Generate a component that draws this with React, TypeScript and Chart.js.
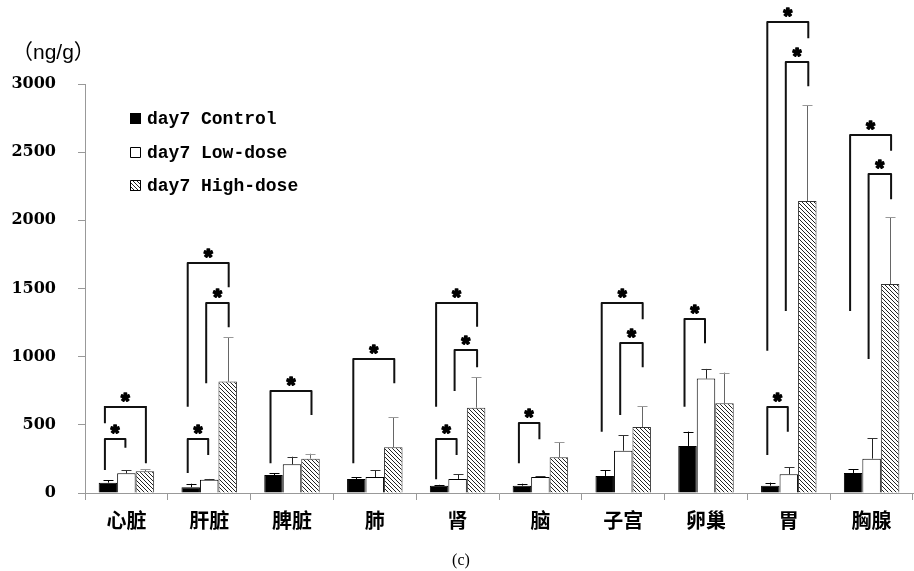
import React, { useEffect, useRef } from "react";
import { Chart, registerables } from "chart.js";

Chart.register(...registerables);

const categories = ["心脏", "肝脏", "脾脏", "肺", "肾", "脑", "子宫", "卵巢", "胃", "胸腺"];
const seriesNames = ["day7 Control", "day7 Low-dose", "day7 High-dose"];
const controlMean = [76, 42, 132, 103, 54, 54, 125, 345, 54, 147];
const controlSD = [17, 26, 12, 12, 6, 14, 41, 105, 22, 27];
const lowMean = [144, 98, 210, 117, 103, 117, 310, 839, 137, 252];
const lowSD = [22, 5, 56, 49, 34, 5, 113, 71, 52, 149];
const highMean = [159, 817, 252, 335, 626, 262, 484, 658, 2142, 1533];
const highSD = [15, 327, 36, 220, 223, 110, 152, 225, 704, 489];
const yTicks = [0, 500, 1000, 1500, 2000, 2500, 3000];
// [category, fromSeries, toSeries, topValue, leftLegBottomValue, rightLegBottomValue]
const brackets: number[][] = [
  [0, 0, 2, 633, 511, 218],
  [0, 0, 1, 398, 169, 332],
  [1, 0, 2, 1689, 633, 1509],
  [1, 1, 2, 1396, 805, 1215],
  [1, 0, 1, 398, 147, 279],
  [2, 0, 2, 750, 218, 572],
  [3, 0, 2, 985, 218, 805],
  [4, 0, 2, 1396, 633, 1220],
  [4, 1, 2, 1047, 748, 922],
  [4, 0, 1, 398, 100, 279],
  [5, 0, 1, 516, 218, 394],
  [6, 0, 2, 1396, 450, 1274],
  [6, 1, 2, 1102, 572, 922],
  [7, 0, 1, 1279, 633, 1098],
  [8, 0, 2, 3455, 1044, 3335],
  [8, 1, 2, 3164, 1335, 2983],
  [8, 0, 1, 633, 279, 450],
  [9, 0, 2, 2628, 1335, 2511],
  [9, 1, 2, 2338, 983, 2154],
];
const unitLabel = "（ng/g）";
const captionLabel = "(c)";

function makeHatch(): CanvasPattern | string {
  const c = document.createElement("canvas");
  c.width = 4;
  c.height = 4;
  const g = c.getContext("2d");
  if (!g) return "#888";
  g.fillStyle = "#fff";
  g.fillRect(0, 0, 4, 4);
  g.strokeStyle = "#222";
  g.lineWidth = 1;
  g.beginPath();
  g.moveTo(-1, -1);
  g.lineTo(5, 5);
  g.moveTo(-1, 3);
  g.lineTo(1, 5);
  g.moveTo(3, -1);
  g.lineTo(5, 1);
  g.stroke();
  return g.createPattern(c, "repeat") || "#888";
}

export default function App() {
  const ref = useRef<HTMLCanvasElement | null>(null);

  useEffect(() => {
    if (!ref.current) return;
    const hatch = makeHatch();
    const sds = [controlSD, lowSD, highSD];
    const fills: any[] = ["#000", "#fff", hatch];

    const overlay = {
      id: "overlay",
      afterDatasetsDraw(chart: any) {
        const ctx = chart.ctx as CanvasRenderingContext2D;
        const y = chart.scales.y;
        ctx.save();
        // error bars
        const stemColors = ["#000", "#222", "#666"];
        const capColors = ["#000", "#333", "#999"];
        for (let d = 0; d < 3; d++) {
          const meta = chart.getDatasetMeta(d);
          meta.data.forEach((el: any, i: number) => {
            const mean = chart.data.datasets[d].data[i] as number;
            const top = y.getPixelForValue(mean + sds[d][i]);
            const base = y.getPixelForValue(mean);
            const x = Math.round(el.x) + 0.5;
            ctx.lineWidth = 1;
            ctx.strokeStyle = stemColors[d];
            ctx.beginPath();
            ctx.moveTo(x, base);
            ctx.lineTo(x, top);
            ctx.stroke();
            ctx.strokeStyle = capColors[d];
            ctx.beginPath();
            ctx.moveTo(x - 5, Math.round(top) + 0.5);
            ctx.lineTo(x + 5, Math.round(top) + 0.5);
            ctx.stroke();
          });
        }
        // significance brackets
        ctx.strokeStyle = "#111";
        ctx.lineWidth = 2;
        ctx.fillStyle = "#000";
        ctx.font = "bold 22px 'Liberation Sans'";
        ctx.textAlign = "center";
        brackets.forEach((b) => {
          const [cat, from, to, topV, lb, rb] = b;
          const xa = chart.getDatasetMeta(from).data[cat].x - 3;
          const xb = chart.getDatasetMeta(to).data[cat].x + (to === 2 ? 1 : -1);
          const yt = Math.round(y.getPixelForValue(topV));
          ctx.strokeStyle = "#111";
          ctx.lineWidth = 2;
          ctx.beginPath();
          ctx.moveTo(xa, y.getPixelForValue(lb));
          ctx.lineTo(xa, yt);
          ctx.lineTo(xb, yt);
          ctx.lineTo(xb, y.getPixelForValue(rb));
          ctx.stroke();
          const m = ctx.measureText("*");
          const cy = yt - 10;
          const baseline = cy + (m.actualBoundingBoxAscent - m.actualBoundingBoxDescent) / 2;
          const sx = (xa + xb) / 2;
          ctx.fillText("*", sx, baseline);
          ctx.lineWidth = 1.6;
          ctx.strokeStyle = "#000";
          ctx.lineJoin = "round";
          ctx.strokeText("*", sx, baseline);
        });
        // legend
        const legendBaselines = [124, 158, 191];
        ctx.textAlign = "left";
        ctx.font = "bold 18px 'Liberation Mono'";
        seriesNames.forEach((name, k) => {
          const bl = legendBaselines[k];
          ctx.fillStyle = fills[k];
          ctx.fillRect(130, bl - 11, 11, 11);
          ctx.lineWidth = 1;
          ctx.strokeStyle = "#000";
          ctx.strokeRect(130.5, bl - 10.5, 10, 10);
          ctx.fillStyle = "#000";
          ctx.fillText(name, 147, bl);
        });
        // unit + caption
        ctx.font = "21px 'Liberation Sans', 'Noto Sans CJK SC'";
        ctx.fillText(unitLabel, 12, 59);
        ctx.textAlign = "center";
        ctx.font = "16px 'Liberation Serif'";
        ctx.fillText(captionLabel, 461, 565);
        ctx.restore();
      },
    };

    const chart = new Chart(ref.current, {
      type: "bar",
      data: {
        labels: categories,
        datasets: [
          { label: seriesNames[0], data: controlMean, backgroundColor: "#000", borderColor: "#000", borderWidth: 1 },
          { label: seriesNames[1], data: lowMean, backgroundColor: "#fff", borderColor: "#000", borderWidth: 1 },
          { label: seriesNames[2], data: highMean, backgroundColor: hatch as any, borderColor: "#333", borderWidth: 1 },
        ],
      },
      options: {
        responsive: false,
        animation: false,
        events: [],
        layout: { padding: { top: 84, right: 1, left: 0, bottom: 0 } },
        datasets: { bar: { categoryPercentage: 0.67, barPercentage: 1 } },
        plugins: { legend: { display: false }, tooltip: { enabled: false }, title: { display: false } },
        scales: {
          x: {
            afterFit: (s: any) => {
              s.height = 78;
            },
            grid: { display: true, drawOnChartArea: false, drawTicks: true, tickLength: 7, offset: true, color: "#999" },
            border: { display: true, color: "#999", width: 1 },
            ticks: { padding: 8, color: "#000", font: { family: "'Noto Sans CJK SC'", size: 20, weight: "bold" } },
          },
          y: {
            min: 0,
            max: 3000,
            afterFit: (s: any) => {
              s.width = 85;
            },
            afterBuildTicks: (s: any) => {
              s.ticks = yTicks.map((v) => ({ value: v }));
            },
            grid: { display: true, drawOnChartArea: false, drawTicks: true, tickLength: 7, color: "#999" },
            border: { display: true, color: "#999", width: 1 },
            ticks: {
              padding: 22,
              color: "#000",
              font: { family: "'DejaVu Serif'", size: 16, weight: "bold" },
              callback: (v: any) => String(v),
            },
          },
        },
      },
      plugins: [overlay],
    });
    return () => chart.destroy();
  }, []);

  return (
    <div style={{ position: "absolute", left: 0, top: 0, width: 914, height: 571, background: "#fff" }}>
      <canvas ref={ref} width={914} height={571} style={{ display: "block" }} />
    </div>
  );
}
